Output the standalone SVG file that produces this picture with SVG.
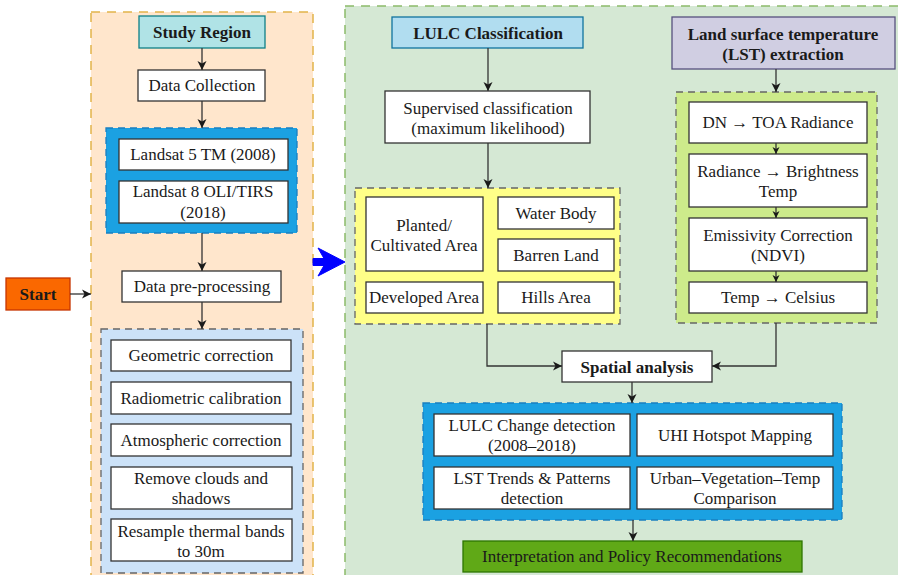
<svg xmlns="http://www.w3.org/2000/svg" width="898" height="575" viewBox="0 0 898 575">
<defs>
<marker id="ah" markerUnits="userSpaceOnUse" markerWidth="10" markerHeight="10" refX="9" refY="5" orient="auto">
<path d="M0,0.5 L9,5 L0,9.5 L2.5,5 Z" fill="#1a1a1a"/>
</marker>
<marker id="ahs" markerUnits="userSpaceOnUse" markerWidth="8" markerHeight="8" refX="7" refY="4" orient="auto">
<path d="M0,0.5 L7,4 L0,7.5 L2,4 Z" fill="#1a1a1a"/>
</marker>
</defs>
<style>
text{font-family:"Liberation Serif","Times New Roman",serif;font-size:17px;fill:#1a1a1a;text-anchor:middle}
.b{font-weight:bold;font-size:17px}
.box{fill:#ffffff;stroke:#333333;stroke-width:1.3}
.grp{stroke-width:1.3;stroke-dasharray:7,5}
.con{fill:none;stroke:#333333;stroke-width:1.3}
</style>
<rect width="898" height="575" fill="#ffffff"/>

<g id="panel-left">
<rect x="91" y="12" width="222" height="575" fill="#FFE6CC" stroke="#E2B44A" stroke-width="1.5" stroke-dasharray="9,7"/>
</g>
<g id="panel-right">
<rect x="345" y="6" width="570" height="580" fill="#D5E8D4" stroke="#8CBA6A" stroke-width="1.5" stroke-dasharray="9,7"/>
</g>

<g id="start">
<rect x="6" y="278" width="64" height="32" fill="#FA6800" stroke="#C73500" stroke-width="1.3"/>
<text class="b" x="38" y="300">Start</text>
</g>

<g id="study-region">
<rect x="139" y="16" width="126" height="32" fill="#B0E3E6" stroke="#0E8088" stroke-width="1.3"/>
<text class="b" x="202" y="38">Study Region</text>
</g>
<g id="data-collection">
<rect class="box" x="138" y="70" width="127" height="31"/>
<text x="202" y="91">Data Collection</text>
</g>
<g id="landsat-group">
<rect class="grp" x="106" y="128" width="191" height="105" fill="#1BA1E2" stroke="#1A7FC0"/>
<g id="landsat5">
<rect class="box" x="119" y="139" width="169" height="31"/>
<text x="203" y="160">Landsat 5 TM (2008)</text>
</g>
<g id="landsat8">
<rect class="box" x="119" y="181" width="169" height="42"/>
<text x="203" y="197">Landsat 8 OLI/TIRS</text>
<text x="203" y="218">(2018)</text>
</g>
</g>
<g id="data-preprocessing">
<rect class="box" x="122" y="271" width="159" height="31"/>
<text x="202" y="292">Data pre-processing</text>
</g>
<g id="preproc-group">
<rect class="grp" x="101" y="329" width="202" height="244" fill="#CCE2F8" stroke="#666666"/>
<g id="geometric">
<rect class="box" x="111" y="340" width="180" height="31"/>
<text x="201" y="361">Geometric correction</text>
</g>
<g id="radiometric">
<rect class="box" x="111" y="382" width="180" height="32"/>
<text x="201" y="404">Radiometric calibration</text>
</g>
<g id="atmospheric">
<rect class="box" x="111" y="424" width="180" height="32"/>
<text x="201" y="446">Atmospheric correction</text>
</g>
<g id="clouds">
<rect class="box" x="111" y="467" width="181" height="42"/>
<text x="201" y="484">Remove clouds and</text>
<text x="201" y="504">shadows</text>
</g>
<g id="resample">
<rect class="box" x="111" y="519" width="181" height="42"/>
<text x="201" y="537">Resample thermal bands</text>
<text x="201" y="557">to 30m</text>
</g>
</g>

<g id="lulc-classification">
<rect x="392" y="17" width="191" height="31" fill="#B1DDF0" stroke="#10739E" stroke-width="1.3"/>
<text class="b" x="488" y="39">LULC Classification</text>
</g>
<g id="supervised">
<rect class="box" x="385" y="91" width="205" height="52"/>
<text x="488" y="114">Supervised classification</text>
<text x="488" y="134">(maximum likelihood)</text>
</g>
<g id="lulc-classes">
<rect class="grp" x="355" y="188" width="265" height="136" fill="#FFFF88" stroke="#666666"/>
<g id="planted">
<rect class="box" x="366" y="197" width="117" height="74"/>
<text x="424" y="231">Planted/</text>
<text x="424" y="251">Cultivated Area</text>
</g>
<g id="water">
<rect class="box" x="498" y="197" width="116" height="32"/>
<text x="556" y="219">Water Body</text>
</g>
<g id="barren">
<rect class="box" x="498" y="239" width="116" height="32"/>
<text x="556" y="261">Barren Land</text>
</g>
<g id="developed">
<rect class="box" x="366" y="282" width="117" height="31"/>
<text x="424" y="303">Developed Area</text>
</g>
<g id="hills">
<rect class="box" x="498" y="282" width="116" height="31"/>
<text x="556" y="303">Hills Area</text>
</g>
</g>

<g id="lst-extraction">
<rect x="672" y="17" width="223" height="52" fill="#D0CEE2" stroke="#56517E" stroke-width="1.3"/>
<text class="b" x="783" y="40">Land surface temperature</text>
<text class="b" x="783" y="60">(LST) extraction</text>
</g>
<g id="lst-steps">
<rect class="grp" x="676" y="92" width="201" height="231" fill="#CDEB8B" stroke="#666666"/>
<g id="dn-toa">
<rect class="box" x="689" y="102" width="178" height="41"/>
<text x="778" y="128">DN → TOA Radiance</text>
</g>
<g id="radiance-bt">
<rect class="box" x="689" y="154" width="178" height="53"/>
<text x="778" y="177">Radiance → Brightness</text>
<text x="778" y="197">Temp</text>
</g>
<g id="emissivity">
<rect class="box" x="689" y="218" width="178" height="53"/>
<text x="778" y="241">Emissivity Correction</text>
<text x="778" y="261">(NDVI)</text>
</g>
<g id="celsius">
<rect class="box" x="689" y="282" width="178" height="31"/>
<text x="778" y="303">Temp → Celsius</text>
</g>
</g>

<g id="spatial-analysis">
<rect class="box" x="562" y="351" width="150" height="31"/>
<text class="b" x="637" y="373">Spatial analysis</text>
</g>
<g id="analysis-group">
<rect class="grp" x="423" y="403" width="419" height="117" fill="#1BA1E2" stroke="#1A7FC0"/>
<g id="lulc-change">
<rect class="box" x="434" y="414" width="196" height="42"/>
<text x="532" y="431">LULC Change detection</text>
<text x="532" y="451">(2008–2018)</text>
</g>
<g id="uhi">
<rect class="box" x="637" y="414" width="196" height="42"/>
<text x="735" y="441">UHI Hotspot Mapping</text>
</g>
<g id="lst-trends">
<rect class="box" x="434" y="467" width="196" height="42"/>
<text x="532" y="484">LST Trends &amp; Patterns</text>
<text x="532" y="504">detection</text>
</g>
<g id="urban-veg">
<rect class="box" x="637" y="467" width="196" height="42"/>
<text x="735" y="484">Urban–Vegetation–Temp</text>
<text x="735" y="504">Comparison</text>
</g>
</g>
<g id="interpretation">
<rect x="463" y="541" width="339" height="31" fill="#60A917" stroke="#2D7600" stroke-width="1.3"/>
<text x="632" y="562">Interpretation and Policy Recommendations</text>
</g>

<g id="connectors">
<path class="con" d="M70,294 L91,294" marker-end="url(#ah)"/>
<path class="con" d="M202,48 L202,70" marker-end="url(#ah)"/>
<path class="con" d="M202,101 L202,128" marker-end="url(#ah)"/>
<path class="con" d="M202,233 L202,271" marker-end="url(#ah)"/>
<path class="con" d="M202,302 L202,329" marker-end="url(#ah)"/>
<path d="M313,258.5 L324,258.5 L318,248 L345,262 L318,276 L324,265.5 L313,265.5 Z" fill="#0000FF" stroke="#0000FF" stroke-width="1"/>
<path class="con" d="M488,48 L488,91" marker-end="url(#ah)"/>
<path class="con" d="M488,143 L488,188" marker-end="url(#ah)"/>
<path class="con" d="M776,69 L776,92" marker-end="url(#ah)"/>
<path class="con" d="M776,143 L776,154" marker-end="url(#ahs)"/>
<path class="con" d="M776,207 L776,218" marker-end="url(#ahs)"/>
<path class="con" d="M776,271 L776,282" marker-end="url(#ahs)"/>
<path class="con" d="M487,324 L487,366 L562,366" marker-end="url(#ah)"/>
<path class="con" d="M776,323 L776,366 L712,366" marker-end="url(#ah)"/>
<path class="con" d="M632,382 L632,403" marker-end="url(#ah)"/>
<path class="con" d="M633,520 L633,541" marker-end="url(#ah)"/>
</g>
</svg>
